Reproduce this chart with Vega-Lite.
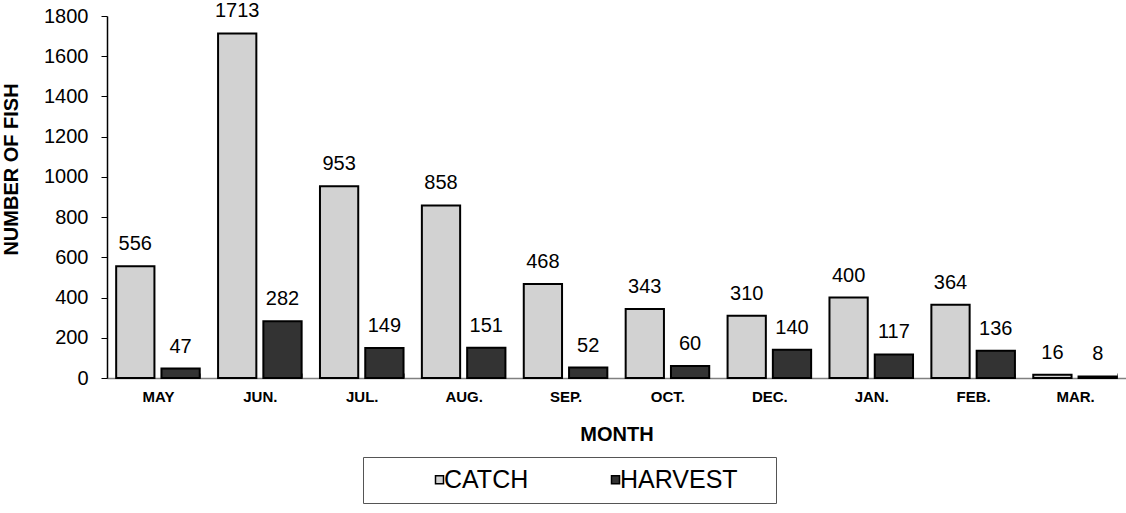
{
  "$schema": "https://vega.github.io/schema/vega-lite/v6.json",
  "width": 1019,
  "height": 362,
  "autosize": {"type": "none"},
  "padding": {"left": 107, "top": 16, "right": 0, "bottom": 135},
  "background": "white",
  "config": {"view": {"stroke": null}, "font": "Liberation Sans"},
  "data": {
    "values": [
      {"month": "MAY", "series": "CATCH", "value": 556},
      {"month": "MAY", "series": "HARVEST", "value": 47},
      {"month": "JUN.", "series": "CATCH", "value": 1713},
      {"month": "JUN.", "series": "HARVEST", "value": 282},
      {"month": "JUL.", "series": "CATCH", "value": 953},
      {"month": "JUL.", "series": "HARVEST", "value": 149},
      {"month": "AUG.", "series": "CATCH", "value": 858},
      {"month": "AUG.", "series": "HARVEST", "value": 151},
      {"month": "SEP.", "series": "CATCH", "value": 468},
      {"month": "SEP.", "series": "HARVEST", "value": 52},
      {"month": "OCT.", "series": "CATCH", "value": 343},
      {"month": "OCT.", "series": "HARVEST", "value": 60},
      {"month": "DEC.", "series": "CATCH", "value": 310},
      {"month": "DEC.", "series": "HARVEST", "value": 140},
      {"month": "JAN.", "series": "CATCH", "value": 400},
      {"month": "JAN.", "series": "HARVEST", "value": 117},
      {"month": "FEB.", "series": "CATCH", "value": 364},
      {"month": "FEB.", "series": "HARVEST", "value": 136},
      {"month": "MAR.", "series": "CATCH", "value": 16},
      {"month": "MAR.", "series": "HARVEST", "value": 8}
    ]
  },
  "encoding": {
    "x": {
      "field": "month",
      "type": "nominal",
      "sort": ["MAY", "JUN.", "JUL.", "AUG.", "SEP.", "OCT.", "DEC.", "JAN.", "FEB.", "MAR."],
      "scale": {"paddingInner": 0.18, "paddingOuter": 0.09},
      "axis": {
        "title": "MONTH",
        "titleFontSize": 20,
        "titleFontWeight": "bold",
        "titleColor": "black",
        "titlePadding": 20,
        "labelFontSize": 15,
        "labelFontWeight": "bold",
        "labelColor": "black",
        "labelAngle": 0,
        "labelPadding": 16,
        "tickBand": "extent",
        "tickSize": -5,
        "tickColor": "#808080",
        "domainColor": "#808080",
        "domainWidth": 1.5,
        "grid": false
      }
    },
    "xOffset": {"field": "series", "scale": {"paddingInner": 0.155, "paddingOuter": 0}},
    "y": {
      "field": "value",
      "type": "quantitative",
      "scale": {"domain": [0, 1800], "nice": false},
      "axis": {
        "title": "NUMBER OF FISH",
        "titleFontSize": 20,
        "titleFontWeight": "bold",
        "titleColor": "black",
        "titleAngle": -90,
        "titleX": -90,
        "titleY": 153,
        "titleAlign": "center",
        "titleBaseline": "alphabetic",
        "values": [0, 200, 400, 600, 800, 1000, 1200, 1400, 1600, 1800],
        "format": "d",
        "labelFontSize": 20,
        "labelColor": "black",
        "labelPadding": 13,
        "tickSize": 6,
        "tickColor": "black",
        "domainColor": "black",
        "domainWidth": 1.5,
        "grid": false
      }
    }
  },
  "layer": [
    {
      "mark": {"type": "bar", "stroke": "black", "strokeWidth": 2},
      "encoding": {
        "color": {
          "field": "series",
          "type": "nominal",
          "scale": {"domain": ["CATCH", "HARVEST"], "range": ["#d2d2d2", "#333333"]},
          "legend": {
            "orient": "none",
            "legendX": 256,
            "legendY": 441,
            "direction": "horizontal",
            "columns": 2,
            "title": " ",
            "titleOrient": "right",
            "titlePadding": 28,
            "titleFontSize": 10,
            "padding": 10,
            "strokeColor": "#555555",
            "fillColor": "white",
            "symbolType": "square",
            "symbolSize": 64,
            "symbolStrokeColor": "black",
            "symbolStrokeWidth": 1.5,
            "symbolOffset": 54,
            "labelFontSize": 25,
            "labelColor": "black",
            "labelOffset": -8,
            "columnPadding": 20
          }
        }
      }
    },
    {
      "mark": {"type": "text", "dy": -16, "baseline": "alphabetic", "fontSize": 20, "color": "black"},
      "encoding": {"text": {"field": "value", "type": "quantitative"}}
    }
  ]
}
